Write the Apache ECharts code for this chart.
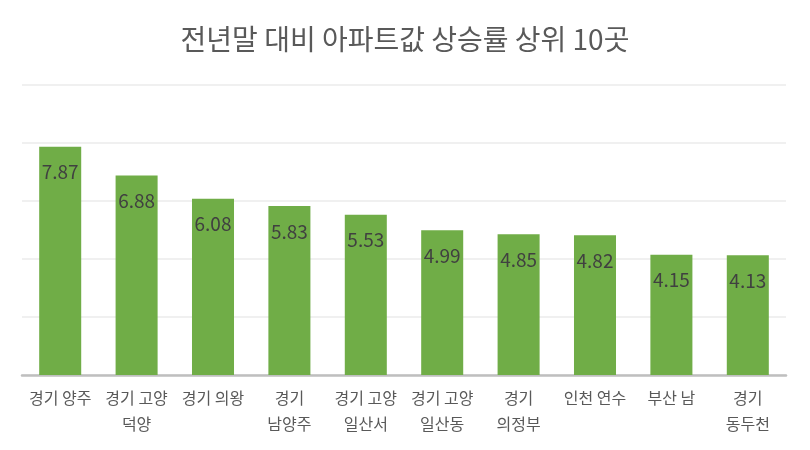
<!DOCTYPE html>
<html><head><meta charset="utf-8">
<script src="https://cdn.jsdelivr.net/npm/echarts@6/dist/echarts.min.js"></script>
<style>html,body{margin:0;padding:0;background:#fff}#c{width:810px;height:450px}</style>
</head><body><div id="c"></div>
<script>
const title = '전년말 대비 아파트값 상승률 상위 10곳';
const categories = ['경기 양주','경기 고양\n덕양','경기 의왕','경기\n남양주','경기 고양\n일산서','경기 고양\n일산동','경기\n의정부','인천 연수','부산 남','경기\n동두천'];
const values = [7.87, 6.88, 6.08, 5.83, 5.53, 4.99, 4.85, 4.82, 4.15, 4.13];
const font = '"Noto Sans CJK KR", "Noto Sans", sans-serif';
const chart = echarts.init(document.getElementById('c'));
chart.setOption({
  animation: false,
  title: {text: title, left: 'center', top: 20, textStyle: {fontFamily: font, fontSize: 28, fontWeight: 'normal', color: '#595959'}},
  grid: {left: 22, right: 24, top: 85, bottom: 75},
  xAxis: {type: 'category', data: categories,
    axisLine: {lineStyle: {color: '#bfbfbf', width: 2.5}}, axisTick: {show: false},
    axisLabel: {interval: 0, margin: 10, fontFamily: font, fontSize: 16, color: '#595959', lineHeight: 26}},
  yAxis: {type: 'value', min: 0, max: 10, interval: 2, axisLabel: {show: false},
    splitLine: {lineStyle: {color: '#ebebeb', width: 1.5}}},
  series: [{type: 'bar', data: values, barWidth: '55%', itemStyle: {color: '#70ad47'},
    label: {show: true, position: 'insideTop', distance: 16, fontFamily: font, fontSize: 19, color: '#404040'}}]
});
</script></body></html>
